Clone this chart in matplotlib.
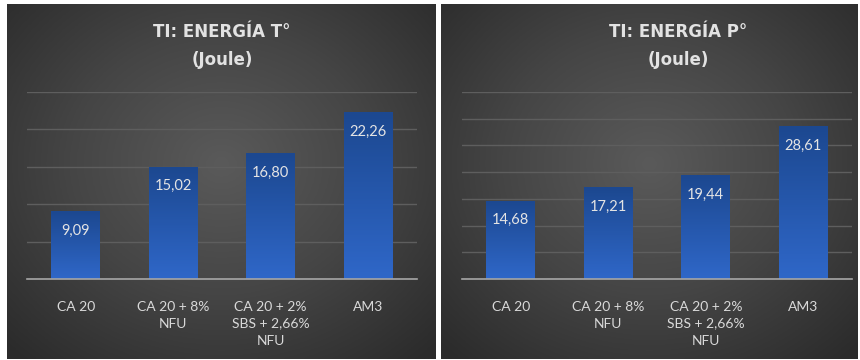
import numpy as np
import matplotlib.pyplot as plt
from matplotlib.colors import LinearSegmentedColormap

categories = ["CA 20", "CA 20 + 8%\nNFU", "CA 20 + 2%\nSBS + 2,66%\nNFU", "AM3"]
energia_t = [9.09, 15.02, 16.80, 22.26]
energia_p = [14.68, 17.21, 19.44, 28.61]
titles = ["TI: ENERGÍA T°", "TI: ENERGÍA P°"]
subtitle = "(Joule)"

W, H = 860, 360
fig = plt.figure(figsize=(W / 100, H / 100), dpi=100)
fig.patch.set_facecolor("white")

bg_cmap = LinearSegmentedColormap.from_list("bg", ["#5a5a5a", "#454545", "#2b2b2b"])
bar_cmap = LinearSegmentedColormap.from_list("bar", ["#2f67c8", "#1c4890"])


def px_box(x0, y0, x1, y1):
    # pixel box (top-left origin) -> figure fraction rect
    return [x0 / W, 1 - y1 / H, (x1 - x0) / W, (y1 - y0) / H]


def panel_background(box):
    bg = fig.add_axes(px_box(*box))
    yy, xx = np.mgrid[-1:1:200j, -1:1:300j]
    r = np.sqrt((xx / 1.05) ** 2 + ((yy + 0.1) / 1.1) ** 2)
    bg.imshow(np.clip(r, 0, 1.4), cmap=bg_cmap, aspect="auto", vmin=0, vmax=1.35,
              extent=[0, 1, 0, 1], interpolation="bilinear")
    bg.set_axis_off()


def draw_chart(ax_box, values, ymax, step, title_x, title):
    ax = fig.add_axes(px_box(*ax_box))
    ax.patch.set_alpha(0)
    x = np.arange(len(categories))
    bars = ax.bar(x, values, width=0.5, color="#2a5cb5", zorder=3)
    grad = np.linspace(0, 1, 100).reshape(-1, 1)
    for b in bars:
        im = ax.imshow(grad, cmap=bar_cmap, aspect="auto", origin="lower",
                       extent=[b.get_x(), b.get_x() + b.get_width(), 0, b.get_height()],
                       zorder=4)
        im.set_clip_path(b)
    for xi, v in zip(x, values):
        ax.annotate(f"{v:.2f}".replace(".", ","), (xi, v), xytext=(0, -14),
                    textcoords="offset points", ha="center", va="center",
                    color="#e4e4e4", fontsize=10.5, family="Lato", zorder=5)
    ax.set_xlim(-0.5, len(categories) - 0.5)
    ax.set_ylim(0, ymax)
    ax.set_yticks(np.arange(0, ymax + 0.1, step))
    ax.yaxis.grid(True, color="#5e5e5e", linewidth=1, zorder=0)
    ax.tick_params(axis="y", left=False, labelleft=False)
    ax.tick_params(axis="x", bottom=False, pad=12)
    ax.set_xticks(x)
    ax.set_xticklabels(categories, color="#d9d9d9", fontsize=10, family="Lato",
                       linespacing=1.5, va="top")
    for s in ["top", "right", "left"]:
        ax.spines[s].set_visible(False)
    ax.spines["bottom"].set_color("#a6a6a6")
    ax.spines["bottom"].set_linewidth(1.2)
    ax.spines["bottom"].set_zorder(6)

    fig.text(title_x / W, 1 - 32 / H, title, ha="center", va="center",
             color="#e2e2e2", fontsize=12, fontweight="bold", family="DejaVu Sans")
    fig.text(title_x / W, 1 - 60 / H, subtitle, ha="center", va="center",
             color="#e2e2e2", fontsize=12, fontweight="bold", family="DejaVu Sans")


panel_background((7, 4, 436, 359))
panel_background((441, 4, 858, 359))

draw_chart((27, 92, 417, 279), energia_t, 25, 5, 222, titles[0])
draw_chart((462, 92, 852, 279), energia_p, 35, 5, 678, titles[1])

fig.savefig("out.png", dpi=100)
